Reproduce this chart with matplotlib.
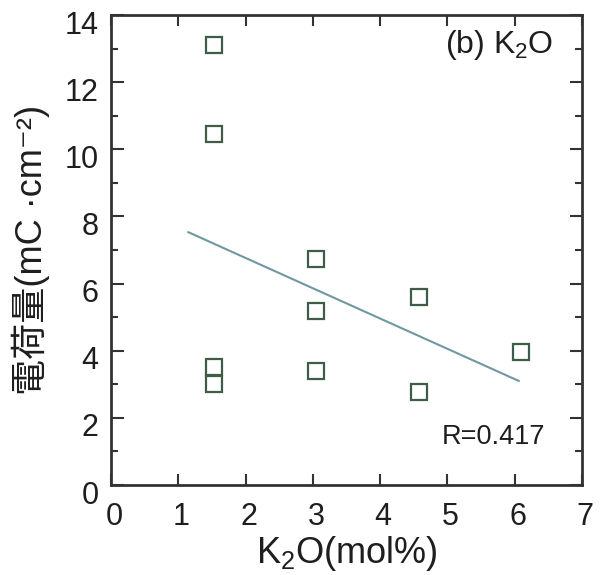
import matplotlib
matplotlib.use("Agg")
import matplotlib.pyplot as plt
from matplotlib.transforms import ScaledTranslation
from matplotlib.ticker import MultipleLocator

plt.rcParams['font.family'] = ['Liberation Sans', 'Noto Sans CJK JP', 'DejaVu Sans']
plt.rcParams['mathtext.fontset'] = 'custom'
plt.rcParams['mathtext.rm'] = 'Liberation Sans'
plt.rcParams['mathtext.it'] = 'Liberation Sans'

# data
k2o = [1.53, 1.53, 1.53, 1.53, 3.05, 3.05, 3.05, 4.58, 4.58, 6.10]
charge = [13.1, 10.47, 3.52, 3.0, 6.73, 5.19, 3.40, 5.60, 2.78, 3.97]
fit_x = [1.15, 6.06]
fit_y = [7.53, 3.10]
x_ticks = [0, 1, 2, 3, 4, 5, 6, 7]
y_ticks = [0, 2, 4, 6, 8, 10, 12, 14]
r_text = "R=0.417"

fig = plt.figure(figsize=(6.02, 5.75), dpi=100)
ax = fig.add_axes([111/602, 90/575, 471/602, 470/575])

ax.plot(fit_x, fit_y, color='#6f98a0', lw=1.5, zorder=2)
ax.plot(k2o, charge, linestyle='none', marker='s', ms=12, mfc='none',
        mec='#3e5c46', mew=1.6, zorder=3)

ax.set_xlim(0, 7)
ax.set_ylim(0, 14)
ax.set_xticks(x_ticks)
ax.set_yticks(y_ticks)
ax.yaxis.set_minor_locator(MultipleLocator(1))

spine_c = '#333333'
for s in ax.spines.values():
    s.set_linewidth(2)
    s.set_color(spine_c)

ax.tick_params(axis='both', which='both', direction='in', top=True, right=True,
               colors=spine_c, labelcolor='#1e1e1e')
ax.tick_params(axis='y', which='major', length=9, width=1.5, labelsize=22, pad=9)
ax.tick_params(axis='y', which='minor', length=5, width=1.5)
ax.tick_params(axis='x', which='major', length=8, width=1.5, labelsize=22, pad=12)

for lab in ax.get_yticklabels():
    lab.set_transform(lab.get_transform() + ScaledTranslation(0, -7/100, fig.dpi_scale_trans))
for lab in ax.get_xticklabels():
    lab.set_transform(lab.get_transform() + ScaledTranslation(3/100, 0, fig.dpi_scale_trans))

ax.set_xlabel(r'K$_2$O(mol%)', fontsize=26, color='#1e1e1e', labelpad=2)
ax.set_ylabel('電荷量(mC ·cm⁻²)', fontsize=26, color='#1e1e1e', labelpad=10)

ax.text(6.57, 13.1, r'(b) K$_2$O', fontsize=23, ha='right', va='center', color='#1e1e1e')
ax.text(6.45, 1.43, r_text, fontsize=19.5, ha='right', va='center', color='#1e1e1e')

fig.savefig('out.png', dpi=100)
